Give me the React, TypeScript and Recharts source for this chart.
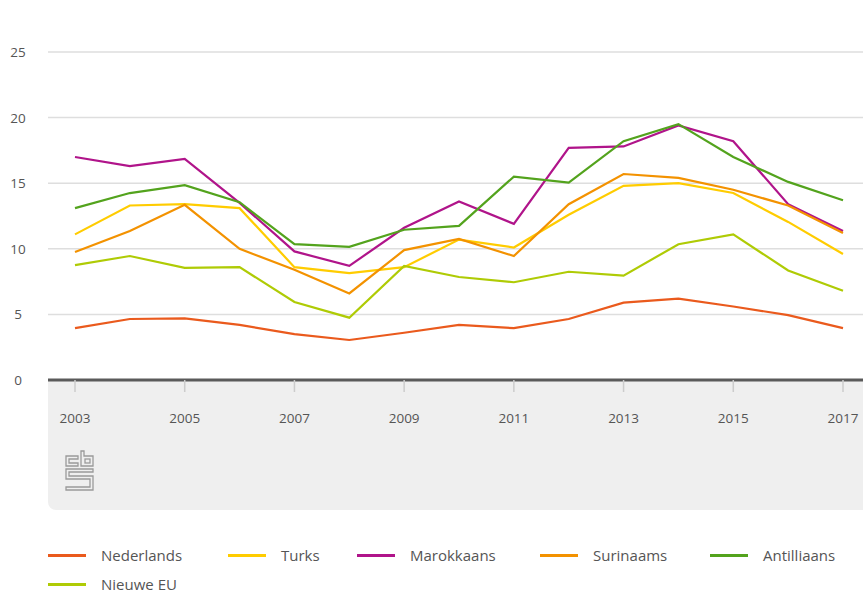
import React from "react";
import { LineChart, Line, XAxis, YAxis, CartesianGrid } from "recharts";

const years = [2003, 2004, 2005, 2006, 2007, 2008, 2009, 2010, 2011, 2012, 2013, 2014, 2015, 2016, 2017];
const nederlands = [3.95, 4.65, 4.7, 4.2, 3.5, 3.05, 3.6, 4.2, 3.95, 4.65, 5.9, 6.2, 5.6, 4.95, 3.95];
const turks = [11.1, 13.3, 13.4, 13.1, 8.6, 8.15, 8.6, 10.7, 10.1, 12.6, 14.8, 15.0, 14.25, 12.05, 9.6];
const marokkaans = [17.0, 16.3, 16.85, 13.5, 9.8, 8.7, 11.6, 13.6, 11.9, 17.7, 17.8, 19.4, 18.2, 13.4, 11.35];
const surinaams = [9.75, 11.35, 13.35, 10.0, 8.4, 6.6, 9.9, 10.75, 9.45, 13.4, 15.7, 15.4, 14.5, 13.3, 11.2];
const antilliaans = [13.1, 14.25, 14.85, 13.55, 10.35, 10.15, 11.45, 11.75, 15.5, 15.05, 18.2, 19.5, 17.0, 15.1, 13.7];
const nieuweEU = [8.75, 9.45, 8.55, 8.6, 5.95, 4.75, 8.7, 7.85, 7.45, 8.25, 7.95, 10.35, 11.1, 8.35, 6.8];

const xTicks = [2003, 2005, 2007, 2009, 2011, 2013, 2015, 2017];
const yTicks = [0, 5, 10, 15, 20, 25];

const series = [
  { key: "Nederlands", values: nederlands, color: "#ea5a1d" },
  { key: "Turks", values: turks, color: "#ffcc00" },
  { key: "Marokkaans", values: marokkaans, color: "#b0148a" },
  { key: "Surinaams", values: surinaams, color: "#f39200" },
  { key: "Antilliaans", values: antilliaans, color: "#53a31d" },
  { key: "Nieuwe EU", values: nieuweEU, color: "#afcb05" },
];

const data = years.map((y, i) => {
  const row: any = { year: y };
  series.forEach((s) => (row[s.key] = s.values[i]));
  return row;
});

const FONT = "'Open Sans', 'Noto Sans', sans-serif";

const XTick = (props: any) => {
  const { x, y, payload } = props;
  return (
    <text x={x} y={y + 29} textAnchor="middle" fill="#555" fontSize={13.5} fontFamily={FONT}>
      {payload.value}
    </text>
  );
};

const YTick = (props: any) => {
  const { y, payload } = props;
  return (
    <text x={18} y={y + 5} textAnchor="middle" fill="#555" fontSize={13.5} fontFamily={FONT}>
      {payload.value}
    </text>
  );
};

const legendPos = [
  { x: 48, y: 555 },
  { x: 228, y: 555 },
  { x: 357, y: 555 },
  { x: 540, y: 555 },
  { x: 710, y: 555 },
  { x: 48, y: 584 },
];

export default function App() {
  return (
    <div style={{ position: "absolute", left: 0, top: 0, width: 863, height: 594, background: "#fff", overflow: "hidden", fontFamily: FONT }}>
      <div style={{ position: "absolute", left: 48, top: 380, width: 815, height: 130, background: "#efefef", borderBottomLeftRadius: 8 }} />
      <svg style={{ position: "absolute", left: 64, top: 449 }} width={32} height={44} viewBox="0 0 32 44">
        <g fill="none" stroke="#9a9a9a" strokeWidth={1.3}>
          <path d="M2 7 H14 V10 H5 V14 H14 V17 H2 Z" />
          <path d="M17 2 H20 V7 H29 V17 H17 Z" />
          <rect x={21} y={10} width={5} height={4} />
          <path d="M2 20 H29 V23 H5 V27 H29 V41 H2 V38 H26 V30 H2 Z" />
        </g>
      </svg>
      <div style={{ position: "absolute", left: 0, top: 0 }}>
        <LineChart width={863} height={594} data={data} margin={{ top: 52, right: 0, bottom: 84, left: 0 }}>
          <CartesianGrid vertical={false} stroke="#dedede" strokeWidth={1.5} />
          <XAxis
            dataKey="year"
            type="number"
            domain={[2003, 2017]}
            ticks={xTicks}
            padding={{ left: 27, right: 20 }}
            height={130}
            axisLine={{ stroke: "#5a5a5a", strokeWidth: 3 }}
            tickLine={{ stroke: "#cccccc", strokeWidth: 1.5 }}
            tickSize={12}
            tick={<XTick />}
            interval={0}
          />
          <YAxis
            domain={[0, 25]}
            ticks={yTicks}
            width={48}
            axisLine={false}
            tickLine={false}
            tick={<YTick />}
            interval={0}
          />
          {series.map((s) => (
            <Line
              key={s.key}
              dataKey={s.key}
              stroke={s.color}
              strokeWidth={2.2}
              dot={false}
              activeDot={false}
              isAnimationActive={false}
            />
          ))}
        </LineChart>
      </div>
      {series.map((s, i) => (
        <div key={s.key} style={{ position: "absolute", left: legendPos[i].x, top: legendPos[i].y - 10, height: 20, display: "flex", alignItems: "center" }}>
          <div style={{ width: 38, height: 3, background: s.color }} />
          <span style={{ marginLeft: 15, fontSize: 15, color: "#555", lineHeight: "20px" }}>{s.key}</span>
        </div>
      ))}
    </div>
  );
}
